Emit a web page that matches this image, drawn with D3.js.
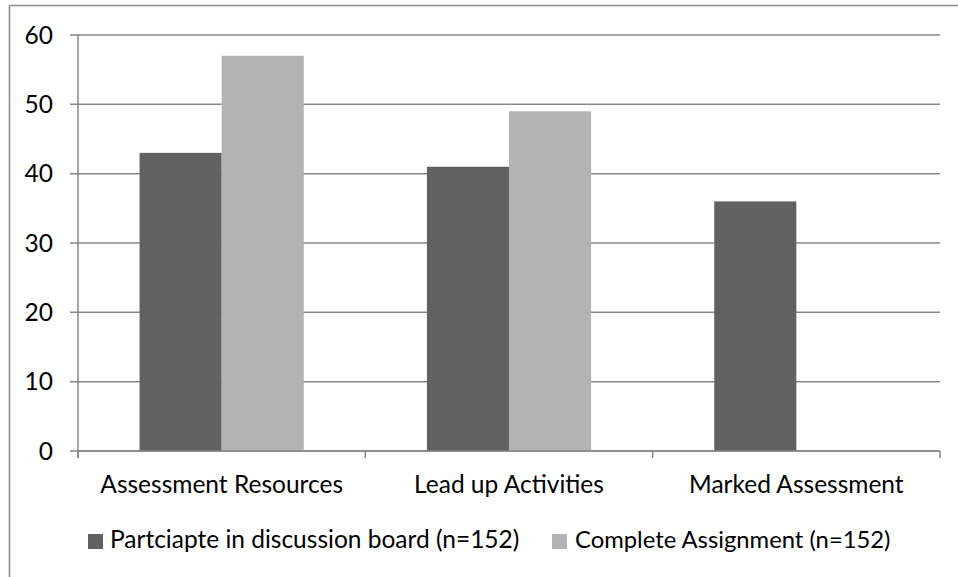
<!DOCTYPE html>
<html><head><meta charset="utf-8">
<script src="https://cdn.jsdelivr.net/npm/d3@7"></script>
<style>body{margin:0;background:#fff}svg{display:block}text{font-family:Lato,"Open Sans",sans-serif;fill:#000}</style>
</head><body><svg id="c" width="958" height="577"></svg>
<script>
const categories = ["Assessment Resources", "Lead up Activities", "Marked Assessment"];
const seriesNames = ["Partciapte in discussion board (n=152)", "Complete Assignment (n=152)"];
const discussion = [43, 41, 36];
const assignment = [57, 49, null];
const yTicks = [0, 10, 20, 30, 40, 50, 60];
const colors = ["#616161", "#b3b3b3"];

const svg = d3.select("#c");
const fs = 24.5;
// outer frame
svg.append("line").attr("x1",9).attr("x2",958).attr("y1",5.5).attr("y2",5.5).attr("stroke","#8c8c8c").attr("stroke-width",1.5);
svg.append("line").attr("x1",9.5).attr("x2",9.5).attr("y1",5).attr("y2",577).attr("stroke","#8c8c8c").attr("stroke-width",1.5);

const L = 78, R = 940, T = 35, B = 451;
const x0 = d3.scaleBand().domain(categories).range([L, R]).paddingInner(0).paddingOuter(0);
const y = d3.scaleLinear().domain([0, 60]).range([B, T]);
const bw = x0.bandwidth() / 3.5;

// gridlines
svg.append("g").selectAll("line").data(yTicks).join("line")
  .attr("x1", L - 8).attr("x2", R).attr("y1", d => y(d)).attr("y2", d => y(d))
  .attr("stroke", "#878787").attr("stroke-width", 1.5);

// bars
const data = categories.map((c, i) => [discussion[i], assignment[i]]);
const g = svg.append("g");
categories.forEach((c, i) => {
  const cx = x0(c) + x0.bandwidth() / 2;
  data[i].forEach((v, j) => {
    if (v == null) return;
    g.append("rect").attr("x", cx - bw + j * bw).attr("y", y(v)).attr("width", bw).attr("height", y(0) - y(v)).attr("fill", colors[j]);
  });
});

// y axis line
svg.append("line").attr("x1", L).attr("x2", L).attr("y1", T).attr("y2", B + 7).attr("stroke", "#878787").attr("stroke-width", 1.5);
// x axis line + ticks
svg.append("line").attr("x1", L).attr("x2", R).attr("y1", B).attr("y2", B).attr("stroke", "#878787").attr("stroke-width", 1.5);
const bounds = [L, ...categories.map(c => x0(c) + x0.bandwidth())];
svg.append("g").selectAll("line").data(bounds).join("line")
  .attr("x1", d => d).attr("x2", d => d).attr("y1", B).attr("y2", B + 7)
  .attr("stroke", "#878787").attr("stroke-width", 1.5);

// y labels
svg.append("g").selectAll("text").data(yTicks).join("text")
  .attr("x", 53).attr("y", d => y(d) + 8.5).attr("text-anchor", "end").attr("font-size", fs).text(d => d);

// x labels
svg.append("g").selectAll("text").data(categories).join("text")
  .attr("x", d => x0(d) + x0.bandwidth() / 2).attr("y", 493).attr("text-anchor", "middle").attr("font-size", fs).text(d => d);

// legend
const leg = [{x: 88, tx: 110, fs: 24.5}, {x: 552, tx: 575, fs: 23.8}];
seriesNames.forEach((s, j) => {
  svg.append("rect").attr("x", leg[j].x).attr("y", 534).attr("width", 15).attr("height", 15).attr("fill", colors[j]);
  svg.append("text").attr("x", leg[j].tx).attr("y", 547.5).attr("font-size", leg[j].fs).text(s);
});
</script></body></html>
